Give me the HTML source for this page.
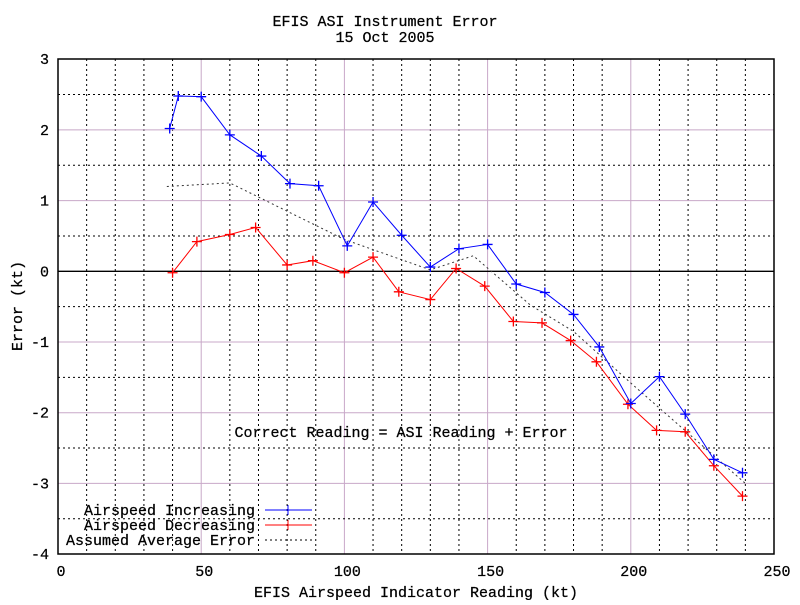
<!DOCTYPE html>
<html><head><meta charset="utf-8"><style>
body{margin:0;background:#fff}
svg text{font-family:"Liberation Mono",monospace;font-size:15px;fill:#000;stroke:#000;stroke-width:0.25}
</style></head><body>
<svg width="800" height="600" id="c">
<rect width="800" height="600" fill="#fff"/>
<g id="grid"></g>
<g id="ticks"></g>
<g id="series"></g>
<rect x="58" y="59" width="716" height="495" fill="none" stroke="#000" stroke-width="1.5"/>
<text x="385" y="26" text-anchor="middle">EFIS ASI Instrument Error</text>
<text x="385" y="42" text-anchor="middle">15 Oct 2005</text>
<text x="416" y="597" text-anchor="middle">EFIS Airspeed Indicator Reading (kt)</text>
<text transform="translate(22,306) rotate(-90)" text-anchor="middle">Error (kt)</text>
<text x="401" y="437" text-anchor="middle">Correct Reading = ASI Reading + Error</text>
<g>
<text x="255" y="515" text-anchor="end">Airspeed Increasing</text>
<line x1="265" y1="510" x2="312" y2="510" stroke="#00f"/>
<path d="M283 510h10M288 505v10" stroke="#00f"/>
<text x="255" y="530" text-anchor="end">Airspeed Decreasing</text>
<line x1="265" y1="525" x2="312" y2="525" stroke="#f00"/>
<path d="M283 525h10M288 520v10" stroke="#f00"/>
<text x="255" y="545" text-anchor="end">Assumed Average Error</text>
<line x1="265" y1="540" x2="312" y2="540" stroke="#000" stroke-dasharray="2,3"/>
</g>
</svg>
<script>
const incX=[39,42,50,60,71,81,91,101,110,120,130,140,150,160,170,180,189,200,210,219,229,239];
const incY=[2.02,2.48,2.47,1.93,1.63,1.24,1.21,0.36,0.98,0.51,0.06,0.32,0.38,-0.18,-0.30,-0.61,-1.07,-1.87,-1.49,-2.02,-2.66,-2.85];
const decX=[40,48.5,60,69,80,89,100,110,119,130,139,149,159,169,179,188,199,209,219,229,239];
const decY=[-0.02,0.42,0.52,0.62,0.09,0.15,-0.02,0.20,-0.29,-0.40,0.04,-0.21,-0.71,-0.73,-0.98,-1.28,-1.88,-2.25,-2.27,-2.75,-3.18];
const avgX=[38,60,100,130,145,165,180,200,240];
const avgY=[1.2,1.25,0.45,0.02,0.22,-0.48,-0.85,-1.58,-3.0];
const xTicks=[0,50,100,150,200,250];
const yTicks=[3,2,1,0,-1,-2,-3,-4];
const NS='http://www.w3.org/2000/svg';
const X=v=>58+v*716/250, Y=v=>271.3-v*70.7;
function mk(t,a,p){const e=document.createElementNS(NS,t);for(const k in a)e.setAttribute(k,a[k]);p.appendChild(e);return e;}
const g=document.getElementById('grid'),tk=document.getElementById('ticks'),s=document.getElementById('series');
for(let v=10;v<250;v+=10){const l=mk('line',{x1:X(v),x2:X(v),y1:59,y2:554,stroke:v%50?'#000':'#c8a8c8','stroke-dasharray':v%50?'2,3':'none','stroke-width':1},g);

}
for(let v=-3.5;v<3;v+=0.5){const isInt=Number.isInteger(v);const l=mk('line',{x1:58,x2:774,y1:Y(v),y2:Y(v),stroke:v===0?'#000':(isInt?'#c8a8c8':'#000'),'stroke-dasharray':(isInt)?'none':'2,3','stroke-width':v===0?1.3:1},g);

}
xTicks.forEach(v=>{const t=mk('text',{x:X(v)+3,y:576,'text-anchor':'middle'},tk);t.textContent=v;

});
yTicks.forEach(v=>{const t=mk('text',{x:49,y:Y(v)+5,'text-anchor':'end'},tk);t.textContent=String(v);

});
function series(xs,ys,col,name,marks,dash){
 const p=mk('polyline',{points:xs.map((x,i)=>X(x)+','+Y(ys[i])).join(' '),fill:'none',stroke:col,'stroke-width':1,'stroke-dasharray':dash||'none'},s);
 
 
 if(marks)xs.forEach((x,i)=>{const m=mk('path',{d:`M${X(x)-5} ${Y(ys[i])}h10M${X(x)} ${Y(ys[i])-5}v10`,stroke:col,'stroke-width':1.3},s);
 
 });
}
series(avgX,avgY,'#333','average',false,'2,3');
series(decX,decY,'#f00','decreasing',true);
series(incX,incY,'#00f','increasing',true);
</script>
</body></html>
